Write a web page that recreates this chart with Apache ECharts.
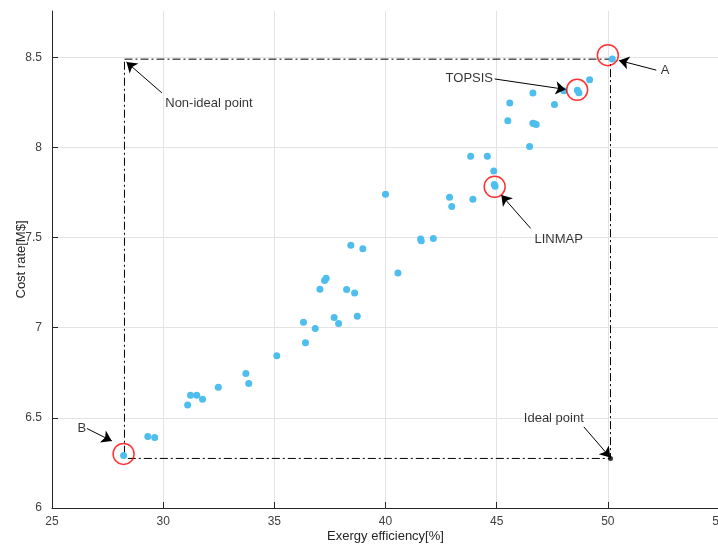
<!DOCTYPE html>
<html>
<head>
<meta charset="utf-8">
<script src="https://cdn.jsdelivr.net/npm/echarts@6/dist/echarts.min.js"></script>
<style>
html,body{margin:0;padding:0;background:#fff;}
#c{width:718px;height:550px;}
</style>
</head>
<body>
<div id="c"></div>
<script>
// Pareto front points: exergy efficiency [%] and cost rate [M$]
const efficiency = [28.22,29.31,29.62,31.10,31.23,31.51,31.77,32.48,33.72,33.85,35.11,36.31,36.40,36.84,37.05,37.26,37.33,37.69,37.89,38.25,38.44,38.61,38.73,38.98,40.00,40.56,41.58,41.61,42.15,42.88,42.98,43.93,43.83,44.58,44.87,44.89,44.93,45.50,45.59,46.48,46.63,46.63,46.70,46.78,47.60,48.02,48.63,48.70,49.18,50.20];
const costRate   = [6.291,6.397,6.391,6.572,6.626,6.626,6.603,6.670,6.746,6.690,6.844,7.031,6.916,6.996,7.214,7.262,7.275,7.057,7.024,7.212,7.458,7.193,7.064,7.438,7.741,7.303,7.492,7.482,7.495,7.724,7.673,7.713,7.951,7.951,7.869,7.795,7.785,8.148,8.246,8.006,8.302,8.134,8.131,8.128,8.239,8.315,8.318,8.303,8.376,8.491];

// Highlighted solutions (red circles)
const highlightNames = ['B','LINMAP','TOPSIS','A'];
const highlightX = [28.22,44.91,48.62,50.00];
const highlightY = [6.300,7.782,8.320,8.512];

// Ideal / non-ideal box corners
const nonIdeal = [28.26, 8.490];
const ideal = [50.12, 6.275];

// Annotation texts, positions and arrows (tail -> tip)
const annotText = ['Non-ideal point','A','TOPSIS','LINMAP','B','Ideal point'];
const annotX = [32.06,52.58,43.77,47.79,26.34,47.57];
const annotY = [8.246,8.429,8.382,7.488,6.444,6.498];
const arrowTail = [[29.94,8.303],[52.18,8.429],[44.91,8.380],[46.53,7.551],[26.57,6.441],[48.92,6.450]];
const arrowTip  = [[28.35,8.474],[50.50,8.483],[48.10,8.322],[45.21,7.736],[27.69,6.372],[50.11,6.280]];

// Axis ticks
const xTicks = [25,30,35,40,45,50,55];
const yTicks = [6,6.5,7,7.5,8,8.5];

const FONT = "'Liberation Sans',Arial,sans-serif";
const chart = echarts.init(document.getElementById('c'), null, {renderer:'canvas'});

const box = [
  [nonIdeal[0], nonIdeal[1]], [ideal[0], nonIdeal[1]], [ideal[0], ideal[1]],
  [nonIdeal[0], ideal[1]], [nonIdeal[0], nonIdeal[1]]
];

chart.setOption({
  animation:false,
  backgroundColor:'#ffffff',
  grid:{left:52, top:11, width:667, height:497, containLabel:false, outerBoundsMode:'none'},
  xAxis:{
    type:'value', min:25, max:55, interval:5,
    name:'Exergy efficiency[%]', nameLocation:'middle', nameGap:22, nameMoveOverlap:false,
    nameTextStyle:{fontFamily:FONT, fontSize:13, color:'#262626'},
    axisLine:{show:true, onZero:false, lineStyle:{color:'#262626', width:1}},
    axisTick:{show:true, inside:true, length:6, lineStyle:{color:'#262626'}},
    axisLabel:{fontFamily:FONT, fontSize:12, color:'#404040', margin:8,
      customValues:xTicks},
    splitLine:{show:true, lineStyle:{color:'#e3e3e3', width:1}}
  },
  yAxis:{
    type:'value', min:6, max:8.757,
    name:'Cost rate[M$]', nameLocation:'middle', nameGap:24, nameRotate:90, nameMoveOverlap:false,
    nameTextStyle:{fontFamily:FONT, fontSize:13, color:'#262626'},
    axisLine:{show:true, onZero:false, lineStyle:{color:'#262626', width:1}},
    axisTick:{show:true, inside:true, length:6, lineStyle:{color:'#262626'}, customValues:yTicks},
    axisLabel:{fontFamily:FONT, fontSize:12, color:'#404040', margin:10,
      customValues:yTicks, formatter:v=>String(v)},
    splitLine:{show:true, lineStyle:{color:'#e3e3e3', width:1}}
  },
  series:[
    {
      type:'line', data:box, showSymbol:false, symbol:'none', silent:true, z:2,
      lineStyle:{color:'#000000', width:1, type:[8,3,2,3]}
    },
    {
      type:'scatter', data:efficiency.map((x,i)=>[x,costRate[i]]),
      symbol:'circle', symbolSize:7, z:3,
      itemStyle:{color:'#4DBEEE', opacity:1}
    },
    {
      type:'scatter', data:[ideal], symbol:'circle', symbolSize:5, z:4,
      itemStyle:{color:'#000000'}
    },
    {
      type:'scatter', data:highlightX.map((x,i)=>({name:highlightNames[i], value:[x,highlightY[i]]})),
      symbol:'circle', symbolSize:21, z:5,
      itemStyle:{color:'rgba(0,0,0,0)', borderColor:'#ff0000', borderWidth:1.5}
    },
    {
      type:'lines', coordinateSystem:'cartesian2d', z:6,
      symbol:['none','arrow'], symbolSize:[0,10],
      lineStyle:{color:'#000000', width:1, opacity:1, curveness:0},
      data:arrowTail.map((t,i)=>({coords:[t, arrowTip[i]]}))
    },
    {
      type:'scatter', symbolSize:0, z:7, silent:true,
      data:annotText.map((s,i)=>({name:s, value:[annotX[i], annotY[i]]})),
      label:{show:true, position:'inside', formatter:'{b}',
        fontFamily:FONT, fontSize:13, color:'#000000'}
    }
  ]
});
</script>
</body>
</html>
